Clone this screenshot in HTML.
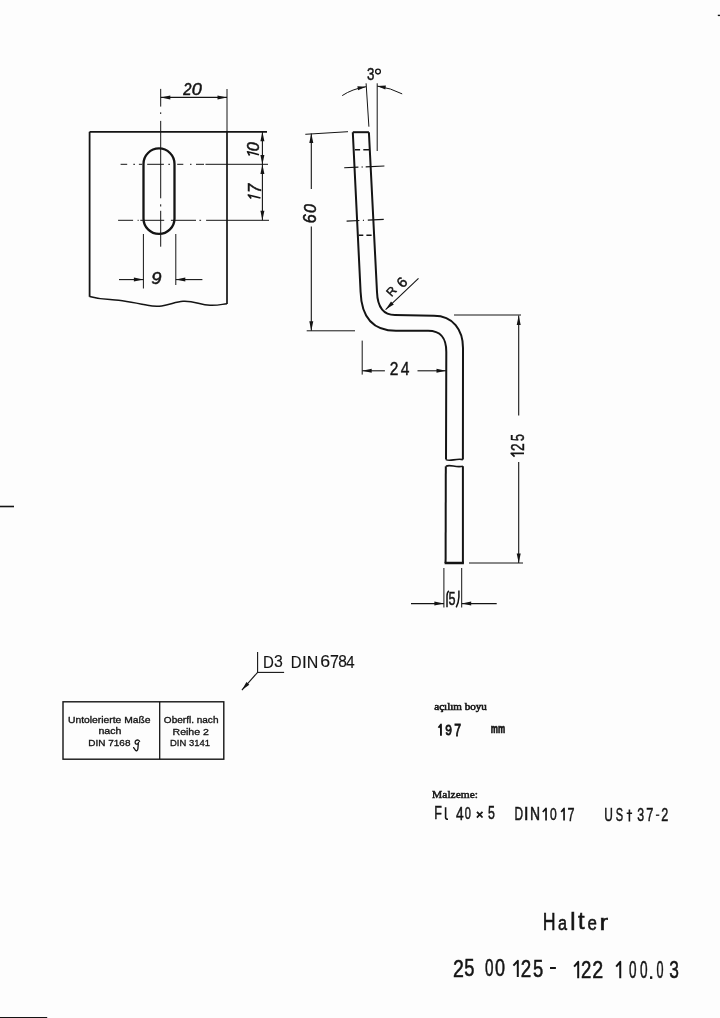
<!DOCTYPE html>
<html><head><meta charset="utf-8"><style>
html,body{margin:0;padding:0;background:#fdfdfd;}
svg{display:block;filter:grayscale(1);}
text{fill:#141414;font-family:"Liberation Sans",sans-serif;}
text.i{font-style:italic;}
text.sr{font-family:"Liberation Serif",serif;}
text.sbx{font-family:"Liberation Sans",sans-serif;font-weight:bold;}
</style></head><body>
<svg width="720" height="1018" viewBox="0 0 720 1018" stroke="#141414" fill="none">
<line x1="89.6" y1="131.8" x2="267" y2="131.8" stroke-width="1.7" stroke-linecap="butt"/>
<line x1="89.6" y1="131.8" x2="89.6" y2="296.8" stroke-width="1.8" stroke-linecap="butt"/>
<line x1="227" y1="89" x2="227" y2="131.8" stroke-width="1.0" stroke-linecap="butt"/>
<line x1="227" y1="131.8" x2="227" y2="304" stroke-width="1.7" stroke-linecap="butt"/>
<path d="M89.6,296.5 C95,298 100,299.3 110,299.6 S130,302 147.5,305.3 S172,302 183,301.3 S200,305 210,305.3 S222,304 227,303.7" fill="none" stroke-width="1.5"/>
<path d="M160.7,88.9L160.7,106.6M160.7,112.3L160.7,114M160.7,120.9L160.7,198.3M160.7,204.3L160.7,206.5M160.7,210.8L160.7,246.7" fill="none" stroke-width="1.0"/>
<rect x="143.5" y="148.4" width="31" height="85.5" rx="15.5" ry="15.5" fill="none" stroke-width="2.3"/>
<path d="M120.60,164.30L127.20,164.30M133.30,164.30L135.00,164.30M138.90,164.30L142.20,164.30M147.20,164.30L163.90,164.30M168.30,164.30L170.00,164.30M177.20,164.30L183.30,164.30M190.00,164.30L191.50,164.30M196.00,164.30L204.00,164.30M205.50,164.30L268.00,164.30" fill="none" stroke-width="1.0"/>
<path d="M118.10,220.30L133.10,220.30M137.60,220.30L138.70,220.30M140.30,220.30L164.20,220.30M170.90,220.30L196.00,220.30M199.40,220.30L201.10,220.30M206.10,220.30L269.00,220.30" fill="none" stroke-width="1.0"/>
<line x1="160.8" y1="97.4" x2="227" y2="97.4" stroke-width="1.2" stroke-linecap="butt"/>
<path d="M160.80,97.40 L170.30,95.40 L170.30,99.40 Z" fill="#141414" stroke="none"/>
<path d="M227.00,97.40 L217.50,99.40 L217.50,95.40 Z" fill="#141414" stroke="none"/>
<text class="i" x="0" y="0" font-size="100" transform="translate(183.35,83.25) scale(0.1481,0.1629) translate(0,70)" stroke="#141414" stroke-width="3.070">2</text>
<text class="i" x="0" y="0" font-size="100" transform="translate(192.55,83.25) scale(0.1804,0.1732) translate(-4,70)" stroke="#141414" stroke-width="2.886">0</text>
<line x1="262.4" y1="131.8" x2="262.4" y2="220.3" stroke-width="1.1" stroke-linecap="butt"/>
<path d="M262.40,131.80 L264.40,141.30 L260.40,141.30 Z" fill="#141414" stroke="none"/>
<path d="M262.40,164.50 L260.40,155.00 L264.40,155.00 Z" fill="#141414" stroke="none"/>
<path d="M262.40,164.50 L264.40,174.00 L260.40,174.00 Z" fill="#141414" stroke="none"/>
<path d="M262.40,220.30 L260.40,210.80 L264.40,210.80 Z" fill="#141414" stroke="none"/>
<text class="i" x="0" y="0" font-size="100" transform="translate(247.55,150.55) rotate(-90) scale(0.1627,0.1676) translate(-4,70)" stroke="#141414" stroke-width="2.983">0</text>
<path d="M259,154.7 L247.5,151.7 L249.6,155.5" fill="none" stroke-width="1.6" stroke-linejoin="round"/>
<text class="i" x="0" y="0" font-size="100" transform="translate(248.45,191.25) rotate(-90) scale(0.1667,0.1765) translate(-10,69)" stroke="#141414" stroke-width="2.833">7</text>
<path d="M260.5,198.1 L248.3,194.9 L251.2,198.6" fill="none" stroke-width="1.6" stroke-linejoin="round"/>
<line x1="143.4" y1="234" x2="143.4" y2="288.5" stroke-width="1.0" stroke-linecap="butt"/>
<line x1="175.8" y1="234" x2="175.8" y2="285" stroke-width="1.0" stroke-linecap="butt"/>
<line x1="119" y1="279.6" x2="143.4" y2="279.6" stroke-width="1.1" stroke-linecap="butt"/>
<line x1="175.8" y1="279.6" x2="202.4" y2="279.6" stroke-width="1.1" stroke-linecap="butt"/>
<path d="M143.40,279.60 L133.90,281.60 L133.90,277.60 Z" fill="#141414" stroke="none"/>
<path d="M175.80,279.60 L185.30,277.60 L185.30,281.60 Z" fill="#141414" stroke="none"/>
<text class="i" x="0" y="0" font-size="100" transform="translate(151.95,272.15) scale(0.1840,0.1690) translate(-4,70)" stroke="#141414" stroke-width="2.958">9</text>
<path d="M352.8,132.2 L360.6,292 C361.5,318 373,330.8 396,330.8 L428,330.8 C441,330.8 446.3,338 446.3,352 L446,459.6" fill="none" stroke-width="2.0"/>
<path d="M368.9,132.2 L377,292 C377.5,306 383,315 395,315 L434,315.8 C453,315.8 463,330 463,348 L462.9,459.6" fill="none" stroke-width="2.0"/>
<line x1="352.8" y1="132.2" x2="368.9" y2="132.2" stroke-width="2.0" stroke-linecap="butt"/>
<path d="M446,459.6 C450,462 456,458 462.9,459.6" fill="none" stroke-width="1.6"/>
<path d="M446,466.2 C450,464 456,468 462.9,466.2" fill="none" stroke-width="1.6"/>
<line x1="445.8" y1="466.2" x2="445.6" y2="563" stroke-width="2.0" stroke-linecap="butt"/>
<line x1="462.9" y1="466.2" x2="462.9" y2="563" stroke-width="2.0" stroke-linecap="butt"/>
<line x1="444.6" y1="563" x2="463.9" y2="563" stroke-width="2.5" stroke-linecap="butt"/>
<path d="M354.90,149.70L360.10,149.70M363.30,149.70L369.20,149.70" fill="none" stroke-width="1.5"/>
<path d="M358.75,235.30L363.30,235.30M366.40,235.30L371.60,235.30" fill="none" stroke-width="1.5"/>
<path d="M344.20,167.80L358.40,167.16M361.50,167.03L362.90,166.96M365.70,166.84L384.40,166.00" fill="none" stroke-width="1.1"/>
<path d="M346.60,221.10L359.40,220.51M362.90,220.35L364.00,220.30M367.80,220.13L383.75,219.40" fill="none" stroke-width="1.1"/>
<line x1="366.1" y1="83.3" x2="368.9" y2="126.7" stroke-width="1.0" stroke-linecap="butt"/>
<line x1="377.2" y1="83.3" x2="377.2" y2="151" stroke-width="1.0" stroke-linecap="butt"/>
<path d="M342.2,95.6 Q352,89 366.1,86.7" fill="none" stroke-width="1.0"/>
<path d="M402.2,93.9 Q391,88 377.2,86.1" fill="none" stroke-width="1.0"/>
<path d="M366.10,86.70 L358.07,90.14 L357.38,86.20 Z" fill="#141414" stroke="none"/>
<path d="M377.20,86.10 L385.91,85.46 L385.28,89.41 Z" fill="#141414" stroke="none"/>
<text class="s" x="0" y="0" font-size="100" transform="translate(367.43,68.52) scale(0.1330,0.1669) translate(-4,70)" stroke="#141414" stroke-width="2.696">3</text>
<circle cx="378" cy="71.6" r="2.4" fill="none" stroke-width="1.3"/>
<line x1="305.3" y1="134.3" x2="348" y2="131.7" stroke-width="1.0" stroke-linecap="butt"/>
<line x1="306.7" y1="330.8" x2="355" y2="330.8" stroke-width="1.0" stroke-linecap="butt"/>
<line x1="311.3" y1="133.4" x2="311.3" y2="189" stroke-width="1.1" stroke-linecap="butt"/>
<line x1="311.3" y1="226.5" x2="311.3" y2="330.8" stroke-width="1.1" stroke-linecap="butt"/>
<path d="M311.30,133.40 L313.30,142.90 L309.30,142.90 Z" fill="#141414" stroke="none"/>
<path d="M311.30,330.80 L309.30,321.30 L313.30,321.30 Z" fill="#141414" stroke="none"/>
<text class="i" x="0" y="0" font-size="100" transform="translate(303.55,212.35) rotate(-90) scale(0.1608,0.1732) translate(-4,70)" stroke="#141414" stroke-width="2.886">0</text>
<text class="i" x="0" y="0" font-size="100" transform="translate(303.25,222.35) rotate(-90) scale(0.1612,0.1761) translate(-6,70)" stroke="#141414" stroke-width="2.840">6</text>
<line x1="362.2" y1="340.6" x2="362.2" y2="374.6" stroke-width="1.0" stroke-linecap="butt"/>
<line x1="362.2" y1="370.8" x2="384.9" y2="370.8" stroke-width="1.1" stroke-linecap="butt"/>
<line x1="417.5" y1="370.8" x2="446" y2="370.8" stroke-width="1.1" stroke-linecap="butt"/>
<path d="M362.20,370.80 L371.70,368.80 L371.70,372.80 Z" fill="#141414" stroke="none"/>
<path d="M446.00,370.80 L436.50,372.80 L436.50,368.80 Z" fill="#141414" stroke="none"/>
<text class="s" x="0" y="0" font-size="100" transform="translate(390.62,362.33) scale(0.1554,0.1821) translate(-5,70)" stroke="#141414" stroke-width="2.471">2</text>
<text class="s" x="0" y="0" font-size="100" transform="translate(401.03,362.33) scale(0.1559,0.1875) translate(-2,69)" stroke="#141414" stroke-width="2.400">4</text>
<line x1="418.5" y1="278.4" x2="385.6" y2="309.6" stroke-width="1.1" stroke-linecap="butt"/>
<path d="M385.60,309.60 L391.02,301.55 L393.81,304.42 Z" fill="#141414" stroke="none"/>
<text class="s" x="0" y="0" font-size="100" transform="translate(391.30,291.00) rotate(-48) scale(0.1201) translate(-37.5,35.0)" stroke="#141414" stroke-width="3.746">R</text>
<text class="s" x="0" y="0" font-size="100" transform="translate(402.10,282.40) rotate(-48) scale(0.1474) translate(-28.0,34.5)" stroke="#141414" stroke-width="3.053">6</text>
<line x1="454" y1="315" x2="521" y2="315" stroke-width="1.0" stroke-linecap="butt"/>
<line x1="469" y1="563" x2="523" y2="563" stroke-width="1.0" stroke-linecap="butt"/>
<line x1="518.7" y1="315.5" x2="518.7" y2="415.6" stroke-width="1.1" stroke-linecap="butt"/>
<line x1="518.7" y1="462" x2="518.7" y2="563" stroke-width="1.1" stroke-linecap="butt"/>
<path d="M518.70,315.50 L520.70,325.00 L516.70,325.00 Z" fill="#141414" stroke="none"/>
<path d="M518.70,563.00 L516.70,553.50 L520.70,553.50 Z" fill="#141414" stroke="none"/>
<text class="s" x="0" y="0" font-size="100" transform="translate(511.12,440.57) rotate(-90) scale(0.1245,0.1821) translate(-4,69)" stroke="#141414" stroke-width="2.471">5</text>
<text class="s" x="0" y="0" font-size="100" transform="translate(511.12,450.27) rotate(-90) scale(0.1380,0.1821) translate(-5,70)" stroke="#141414" stroke-width="2.471">2</text>
<path d="M524,453.4 L511.2,453.4 L514.6,456.6" fill="none" stroke-width="1.7" stroke-linejoin="round"/>
<line x1="443.9" y1="568" x2="443.9" y2="607.5" stroke-width="1.0" stroke-linecap="butt"/>
<line x1="461.7" y1="568" x2="461.7" y2="607.5" stroke-width="1.0" stroke-linecap="butt"/>
<line x1="411" y1="603.6" x2="443.9" y2="603.6" stroke-width="1.1" stroke-linecap="butt"/>
<line x1="461.7" y1="603.6" x2="496.7" y2="603.6" stroke-width="1.1" stroke-linecap="butt"/>
<path d="M443.90,603.60 L434.40,605.60 L434.40,601.60 Z" fill="#141414" stroke="none"/>
<path d="M461.70,603.60 L471.20,601.60 L471.20,605.60 Z" fill="#141414" stroke="none"/>
<text class="s" x="0" y="0" font-size="100" transform="translate(449.12,593.02) scale(0.1266,0.1764) translate(-4,69)" stroke="#141414" stroke-width="2.551">5</text>
<path d="M448.9,590.8 Q447,592 447,596 L447,607.2" fill="none" stroke-width="1.5"/>
<path d="M458.9,590.6 L458.9,597 Q458.6,603 456.2,607.4" fill="none" stroke-width="1.5"/>
<line x1="257.6" y1="651.9" x2="257.6" y2="673" stroke-width="1.1" stroke-linecap="butt"/>
<line x1="257.6" y1="672.4" x2="284.1" y2="672.4" stroke-width="1.1" stroke-linecap="butt"/>
<line x1="257.6" y1="672.4" x2="241.9" y2="690.1" stroke-width="1.1" stroke-linecap="butt"/>
<path d="M241.90,690.10 L246.46,682.11 L249.30,684.64 Z" fill="#141414" stroke="none"/>
<text class="s" x="0" y="0" font-size="100" transform="translate(264.27,655.68) scale(0.1500,0.1717) translate(-8,69)" stroke="#141414" stroke-width="0.873">D</text>
<text class="s" x="0" y="0" font-size="100" transform="translate(274.68,655.68) scale(0.1585,0.1669) translate(-4,70)" stroke="#141414" stroke-width="0.899">3</text>
<text class="s" x="0" y="0" font-size="100" transform="translate(292.07,655.68) scale(0.1500,0.1717) translate(-8,69)" stroke="#141414" stroke-width="0.873">D</text>
<text class="s" x="0" y="0" font-size="100" transform="translate(303.54,655.68) scale(0.1717,0.1717) translate(-9,69)" stroke="#141414" stroke-width="0.873">I</text>
<text class="s" x="0" y="0" font-size="100" transform="translate(307.97,655.68) scale(0.1598,0.1717) translate(-8,69)" stroke="#141414" stroke-width="0.873">N</text>
<text class="s" x="0" y="0" font-size="100" transform="translate(321.18,655.68) scale(0.1772,0.1669) translate(-5,70)" stroke="#141414" stroke-width="0.899">6</text>
<text class="s" x="0" y="0" font-size="100" transform="translate(330.88,655.68) scale(0.1598,0.1743) translate(-5,69)" stroke="#141414" stroke-width="0.861">7</text>
<text class="s" x="0" y="0" font-size="100" transform="translate(338.77,655.68) scale(0.1543,0.1669) translate(-4,70)" stroke="#141414" stroke-width="0.899">8</text>
<text class="s" x="0" y="0" font-size="100" transform="translate(346.38,655.68) scale(0.1559,0.1743) translate(-2,69)" stroke="#141414" stroke-width="0.861">4</text>
<rect x="63" y="701.8" width="160.8" height="57.4" fill="none" stroke-width="1.4"/>
<line x1="159.7" y1="701.8" x2="159.7" y2="759.2" stroke-width="1.3" stroke-linecap="butt"/>
<text class="s" x="0" y="0" font-size="100" transform="translate(68.91,716.41) scale(0.1030,0.0882) translate(-8,73)" stroke="#141414" stroke-width="3.626">Untolerierte Maße</text>
<text class="s" x="0" y="0" font-size="100" transform="translate(99.16,727.66) scale(0.1063,0.0889) translate(-7,73)" stroke="#141414" stroke-width="3.599">nach</text>
<text class="s" x="0" y="0" font-size="100" transform="translate(89.16,739.56) scale(0.0998,0.0920) translate(-8,70)" stroke="#141414" stroke-width="3.479">DIN 7168</text>
<path d="M139.6,741.4 C139.2,739.9 137.4,739.7 136.2,740.3 C134.8,741 134.7,743.6 136.1,744.1 C137.3,744.5 138.5,743.6 138.6,742.4 M138.3,743.6 L137.9,748.8 C137.7,750.8 136.4,751.2 135.4,750.2 L133.6,747.6" fill="none" stroke-width="1.3" stroke-linecap="round"/>
<text class="s" x="0" y="0" font-size="100" transform="translate(164.36,716.66) scale(0.1003,0.0862) translate(-5,73)" stroke="#141414" stroke-width="3.712">Oberfl. nach</text>
<text class="s" x="0" y="0" font-size="100" transform="translate(173.36,728.06) scale(0.1057,0.0943) translate(-8,73)" stroke="#141414" stroke-width="3.393">Reihe 2</text>
<text class="s" x="0" y="0" font-size="100" transform="translate(170.76,739.56) scale(0.0948,0.0983) translate(-8,70)" stroke="#141414" stroke-width="3.255">DIN 3141</text>
<text class="sr" x="0" y="0" font-size="100" transform="translate(434.67,703.52) scale(0.1108,0.0978) translate(-4,69)" stroke="#141414" stroke-width="5.625">açılım boyu</text>
<path d="M440.95,735.80 L440.95,724.57 L438.51,727.78" fill="none" stroke-width="1.90" stroke-linejoin="round" stroke-linecap="butt"/>
<text class="s" x="0" y="0" font-size="100" transform="translate(445.95,724.45) scale(0.1196,0.1535) translate(-5,70)" stroke="#141414" stroke-width="5.862">9</text>
<text class="s" x="0" y="0" font-size="100" transform="translate(454.85,724.45) scale(0.1217,0.1603) translate(-5,69)" stroke="#141414" stroke-width="5.615">7</text>
<text class="sbx" x="0" y="0" font-size="100" transform="translate(491.35,726.35) scale(0.0806,0.1278) translate(-7,54)" stroke="#141414" stroke-width="5.478">mm</text>
<text class="sr" x="0" y="0" font-size="100" transform="translate(432.45,789.95) scale(0.1149,0.1114) translate(-3,69)" stroke="#141414" stroke-width="4.487">Malzeme:</text>
<text class="s" x="0" y="0" font-size="100" transform="translate(435.35,807.15) scale(0.1245,0.1768) translate(-8,69)" stroke="#141414" stroke-width="2.828">F</text>
<text class="s" x="0" y="0" font-size="100" transform="translate(456.25,807.15) scale(0.1373,0.1794) translate(-2,69)" stroke="#141414" stroke-width="2.787">4</text>
<text class="s" x="0" y="0" font-size="100" transform="translate(465.25,807.15) scale(0.1104,0.1718) translate(-4,70)" stroke="#141414" stroke-width="2.910">0</text>
<path d="M445.6,807.2 L445.6,817.6 Q445.8,819.2 448,819.2" fill="none" stroke-width="1.6"/>
<text class="s" x="0" y="0" font-size="100" transform="translate(477.00,811.60) scale(0.1273,0.1364) translate(-7,55)" stroke="#141414" stroke-width="5.867">×</text>
<text class="s" x="0" y="0" font-size="100" transform="translate(488.55,807.15) scale(0.1234,0.1743) translate(-4,69)" stroke="#141414" stroke-width="2.869">5</text>
<text class="s" x="0" y="0" font-size="100" transform="translate(515.35,808.15) scale(0.1186,0.1768) translate(-8,69)" stroke="#141414" stroke-width="2.828">D</text>
<text class="s" x="0" y="0" font-size="100" transform="translate(525.27,808.15) scale(0.1768,0.1768) translate(-9,69)" stroke="#141414" stroke-width="2.828">I</text>
<text class="s" x="0" y="0" font-size="100" transform="translate(531.15,808.15) scale(0.1393,0.1768) translate(-8,69)" stroke="#141414" stroke-width="2.828">N</text>
<path d="M546.05,820.60 L546.05,808.41 L542.78,811.96" fill="none" stroke-width="1.70" stroke-linejoin="round" stroke-linecap="butt"/>
<text class="s" x="0" y="0" font-size="100" transform="translate(550.55,808.15) scale(0.1208,0.1718) translate(-4,70)" stroke="#141414" stroke-width="2.910">0</text>
<path d="M564.05,820.60 L564.05,808.41 L561.18,811.96" fill="none" stroke-width="1.70" stroke-linejoin="round" stroke-linecap="butt"/>
<text class="s" x="0" y="0" font-size="100" transform="translate(568.05,808.15) scale(0.1261,0.1794) translate(-5,69)" stroke="#141414" stroke-width="2.787">7</text>
<text class="s" x="0" y="0" font-size="100" transform="translate(605.15,808.55) scale(0.1196,0.1814) translate(-8,69)" stroke="#141414" stroke-width="2.756">U</text>
<text class="s" x="0" y="0" font-size="100" transform="translate(616.25,808.55) scale(0.1105,0.1789) translate(-5,70)" stroke="#141414" stroke-width="2.795">S</text>
<path d="M629.4,809.6 L629.4,821.5 M626.7,813.2 L632.1,813.2" fill="none" stroke-width="1.6"/>
<text class="s" x="0" y="0" font-size="100" transform="translate(637.65,808.55) scale(0.1234,0.1789) translate(-4,70)" stroke="#141414" stroke-width="2.795">3</text>
<text class="s" x="0" y="0" font-size="100" transform="translate(646.85,808.55) scale(0.1283,0.1868) translate(-5,69)" stroke="#141414" stroke-width="2.677">7</text>
<text class="s" x="0" y="0" font-size="100" transform="translate(661.95,808.55) scale(0.1261,0.1814) translate(-5,70)" stroke="#141414" stroke-width="2.756">2</text>
<line x1="655.9" y1="815.2" x2="659.3" y2="815.2" stroke-width="1.3" stroke-linecap="butt"/>
<text class="s" x="0" y="0" font-size="100" transform="translate(544.27,912.77) scale(0.1777,0.2457) translate(-8,69)" stroke="#141414" stroke-width="2.239">H</text>
<text class="s" x="0" y="0" font-size="100" transform="translate(558.77,918.27) scale(0.1625,0.2082) translate(-4,54)" stroke="#141414" stroke-width="2.642">a</text>
<text class="s" x="0" y="0" font-size="100" transform="translate(571.94,912.77) scale(0.2354,0.2354) translate(-7,73)" stroke="#141414" stroke-width="2.336">l</text>
<text class="s" x="0" y="0" font-size="100" transform="translate(578.53,914.27) scale(0.2377,0.2377) translate(-2,64)" stroke="#141414" stroke-width="2.314">t</text>
<text class="s" x="0" y="0" font-size="100" transform="translate(588.27,918.27) scale(0.1691,0.2082) translate(-4,54)" stroke="#141414" stroke-width="2.642">e</text>
<text class="s" x="0" y="0" font-size="100" transform="translate(601.27,918.27) scale(0.2580,0.2120) translate(-7,54)" stroke="#141414" stroke-width="2.594">r</text>
<text class="s" x="0" y="0" font-size="100" transform="translate(454.02,959.88) scale(0.1957,0.2393) translate(-5,70)" stroke="#141414" stroke-width="2.299">2</text>
<text class="s" x="0" y="0" font-size="100" transform="translate(464.88,959.88) scale(0.1830,0.2393) translate(-4,69)" stroke="#141414" stroke-width="2.299">5</text>
<text class="s" x="0" y="0" font-size="100" transform="translate(485.67,959.88) scale(0.1531,0.2359) translate(-4,70)" stroke="#141414" stroke-width="2.331">0</text>
<text class="s" x="0" y="0" font-size="100" transform="translate(495.67,959.88) scale(0.1802,0.2359) translate(-4,70)" stroke="#141414" stroke-width="2.331">0</text>
<path d="M517.80,977.10 L517.80,960.80 L513.40,965.61" fill="none" stroke-width="2.00" stroke-linejoin="round" stroke-linecap="butt"/>
<text class="s" x="0" y="0" font-size="100" transform="translate(521.57,960.48) scale(0.1880,0.2336) translate(-5,70)" stroke="#141414" stroke-width="2.355">2</text>
<text class="s" x="0" y="0" font-size="100" transform="translate(533.67,960.48) scale(0.1840,0.2336) translate(-4,69)" stroke="#141414" stroke-width="2.355">5</text>
<line x1="550" y1="968" x2="555.9" y2="968" stroke-width="2.0" stroke-linecap="butt"/>
<path d="M578.20,978.30 L578.20,961.80 L574.10,966.67" fill="none" stroke-width="2.00" stroke-linejoin="round" stroke-linecap="butt"/>
<text class="s" x="0" y="0" font-size="100" transform="translate(581.98,961.48) scale(0.1859,0.2364) translate(-5,70)" stroke="#141414" stroke-width="2.326">2</text>
<text class="s" x="0" y="0" font-size="100" transform="translate(593.17,961.48) scale(0.1967,0.2364) translate(-5,70)" stroke="#141414" stroke-width="2.326">2</text>
<path d="M620.25,978.30 L620.25,961.80 L616.20,966.67" fill="none" stroke-width="2.00" stroke-linejoin="round" stroke-linecap="butt"/>
<text class="s" x="0" y="0" font-size="100" transform="translate(629.48,961.48) scale(0.1354,0.2373) translate(-4,70)" stroke="#141414" stroke-width="2.318">0</text>
<text class="s" x="0" y="0" font-size="100" transform="translate(640.67,961.48) scale(0.1365,0.2373) translate(-4,70)" stroke="#141414" stroke-width="2.318">0</text>
<rect x="650" y="976.3" width="2.3" height="2.6" fill="#141414" stroke="none"/>
<text class="s" x="0" y="0" font-size="100" transform="translate(656.98,961.48) scale(0.1260,0.2373) translate(-4,70)" stroke="#141414" stroke-width="2.318">0</text>
<text class="s" x="0" y="0" font-size="100" transform="translate(669.88,961.48) scale(0.1734,0.2373) translate(-4,70)" stroke="#141414" stroke-width="2.318">3</text>
<line x1="0" y1="506.5" x2="14" y2="506.5" stroke-width="1.6" stroke-linecap="butt"/>
<line x1="717.8" y1="15.4" x2="720" y2="15.4" stroke-width="1.4" stroke-linecap="butt"/>
<line x1="0" y1="1017.6" x2="47.2" y2="1017.6" stroke-width="1.3" stroke-linecap="butt"/>
</svg>
</body></html>
